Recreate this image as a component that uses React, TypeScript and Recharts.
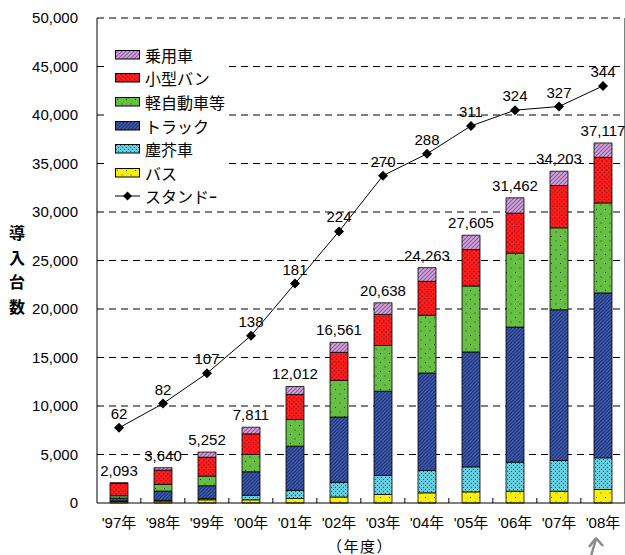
import React from "react"
import { ComposedChart, Bar, Line, XAxis, YAxis, CartesianGrid, LabelList } from "recharts"

// values (units: vehicles)
const years = ["'97年", "'98年", "'99年", "'00年", "'01年", "'02年", "'03年", "'04年", "'05年", "'06年", "'07年", "'08年"]
const bus = [150, 200, 330, 330, 475, 620, 875, 1050, 1150, 1220, 1220, 1390]
const garbage = [50, 70, 120, 470, 825, 1510, 1960, 2300, 2580, 2990, 3160, 3270]
const truck = [300, 960, 1330, 2421, 4557, 6731, 8693, 10053, 11845, 13922, 15538, 16997]
const kei = [250, 690, 990, 1780, 2750, 3780, 4710, 5950, 6800, 7630, 8450, 9280]
const van = [1270, 1470, 1950, 2130, 2580, 2890, 3200, 3500, 3750, 4120, 4360, 4700]
const car = [73, 250, 532, 680, 825, 1030, 1200, 1410, 1480, 1580, 1475, 1480]
const totals = [2093, 3640, 5252, 7811, 12012, 16561, 20638, 24263, 27605, 31462, 34203, 37117]
const stands = [62, 82, 107, 138, 181, 224, 270, 288, 311, 324, 327, 344]
const leftTicks = [0, 5000, 10000, 15000, 20000, 25000, 30000, 35000, 40000, 45000, 50000]
const rightTicks = [0, 100, 200, 300, 400]

const data = years.map((year, i) => ({
  year,
  bus: bus[i],
  garbage: garbage[i],
  truck: truck[i],
  kei: kei[i],
  van: van[i],
  car: car[i],
  total: totals[i],
  stand: stands[i],
}))

// stacked from bottom to top
const series = [
  { key: "bus", name: "バス", fill: "url(#pYellow)" },
  { key: "garbage", name: "塵芥車", fill: "url(#pCyan)" },
  { key: "truck", name: "トラック", fill: "url(#pBlue)" },
  { key: "kei", name: "軽自動車等", fill: "url(#pGreen)" },
  { key: "van", name: "小型バン", fill: "url(#pRed)" },
  { key: "car", name: "乗用車", fill: "url(#pPurple)" },
]

const W = 625
const H = 555
const LEFT_W = 97
const RIGHT_W = 4
const BAND = (W - LEFT_W - RIGHT_W) / years.length
const FONT = "'Liberation Sans', 'Noto Sans CJK JP', sans-serif"

function Patterns() {
  return (
    <svg width={0} height={0} style={{ position: "absolute" }}>
      <defs>
        <pattern id="pPurple" width={4} height={4} patternUnits="userSpaceOnUse">
          <rect width={4} height={4} fill="#d4a8dc" />
          <path d="M-1,1 l2,-2 M0,4 l4,-4 M3,5 l2,-2" stroke="#8a5598" strokeWidth={1.1} />
        </pattern>
        <pattern id="pBlue" width={3.5} height={3.5} patternUnits="userSpaceOnUse">
          <rect width={3.5} height={3.5} fill="#4566bd" />
          <path d="M-1,1 l2,-2 M0,3.5 l3.5,-3.5 M2.5,4.5 l2,-2" stroke="#1c2a66" strokeWidth={1.1} />
        </pattern>
        <pattern id="pRed" width={4.5} height={4.5} patternUnits="userSpaceOnUse">
          <rect width={4.5} height={4.5} fill="#ff1e1e" />
          <rect x={1} y={1} width={1} height={1} fill="#4a0000" />
          <rect x={3.2} y={3.2} width={1} height={1} fill="#4a0000" />
        </pattern>
        <pattern id="pGreen" width={9} height={9} patternUnits="userSpaceOnUse">
          <rect width={9} height={9} fill="#66bf44" />
          <rect x={2} y={2} width={1} height={1} fill="#1a3a10" />
          <rect x={6.5} y={6.5} width={1} height={1} fill="#1a3a10" />
        </pattern>
        <pattern id="pCyan" width={4} height={4} patternUnits="userSpaceOnUse">
          <rect width={4} height={4} fill="#64cfe0" />
          <rect x={1} y={1} width={1} height={1} fill="#1d5160" />
          <rect x={3} y={3} width={1} height={1} fill="#1d5160" />
        </pattern>
        <pattern id="pYellow" width={9} height={9} patternUnits="userSpaceOnUse">
          <rect width={9} height={9} fill="#f8ee10" />
          <rect x={2} y={2} width={1} height={1} fill="#555000" />
          <rect x={6.5} y={6.5} width={1} height={1} fill="#555000" />
        </pattern>
      </defs>
    </svg>
  )
}

function Diamond(props: any) {
  const { cx, cy } = props
  if (cx == null || cy == null) return null
  return <path d={`M${cx},${cy - 5} L${cx + 5},${cy} L${cx},${cy + 5} L${cx - 5},${cy} Z`} fill="#000" />
}

function XTick(props: any) {
  const { x, y, payload, index } = props
  return (
    <g>
      <text x={x} y={y + 25} textAnchor="middle" fontSize={15} fill="#000">
        {payload.value}
      </text>
      {index < years.length - 1 && (
        <line x1={x + BAND / 2} x2={x + BAND / 2} y1={y} y2={y - 5} stroke="#000" />
      )}
    </g>
  )
}

function LegendBox() {
  const rows = [...series].reverse()
  return (
    <div
      style={{
        position: "absolute",
        left: 108,
        top: 40,
        background: "#fff",
        width: 120,
        height: 164,
        padding: "3px 0 0 7px",
        boxSizing: "border-box",
        fontFamily: FONT,
        fontSize: 16,
        color: "#000",
      }}
    >
      {rows.map((s) => (
        <div key={s.key} style={{ height: 23.6, display: "flex", alignItems: "center" }}>
          <svg width={26} height={10} style={{ marginRight: 4 }}>
            <rect x={0.5} y={0.5} width={24} height={8.5} fill={s.fill} stroke="#000" strokeWidth={1} />
          </svg>
          <span>{s.name}</span>
        </div>
      ))}
      <div style={{ height: 23.6, display: "flex", alignItems: "center" }}>
        <svg width={26} height={12} style={{ marginRight: 4 }}>
          <line x1={0} x2={25} y1={6} y2={6} stroke="#000" />
          <path d="M12.5,1.5 L17,6 L12.5,10.5 L8,6 Z" fill="#000" />
        </svg>
        <span>スタンドｰ</span>
      </div>
    </div>
  )
}

export default function App() {
  return (
    <div style={{ position: "absolute", left: 0, top: 0, width: W, height: H, background: "#fff" }}>
      <Patterns />
      <ComposedChart
        width={W}
        height={H}
        data={data}
        margin={{ top: 18, right: 0, bottom: 0, left: 0 }}
        barSize={18}
        style={{ fontFamily: FONT }}
      >
        <CartesianGrid yAxisId="left" vertical={false} stroke="#000" strokeDasharray="7 5" horizontalValues={leftTicks.slice(1)} />
        <XAxis
          dataKey="year"
          height={52}
          interval={0}
          tickSize={0}
          tickMargin={0}
          tick={<XTick />}
          axisLine={{ stroke: "#000" }}
          tickLine={false}
        />
        <YAxis
          yAxisId="left"
          width={LEFT_W}
          domain={[0, 50000]}
          ticks={leftTicks}
          tickFormatter={(v: number) => v.toLocaleString("en-US")}
          tick={{ fill: "#000", fontSize: 15 }}
          tickLine={false}
          tickSize={0}
          tickMargin={19}
          axisLine={{ stroke: "#000" }}
        />
        <YAxis
          yAxisId="right"
          orientation="right"
          width={RIGHT_W}
          domain={[0, 400]}
          ticks={rightTicks}
          tick={false}
          mirror
          tickSize={4}
          tickLine={{ stroke: "#000" }}
          axisLine={{ stroke: "#000" }}
        />
        {series.map((s, i) => (
          <Bar
            key={s.key}
            yAxisId="left"
            dataKey={s.key}
            name={s.name}
            stackId="a"
            fill={s.fill}
            stroke="#000"
            strokeWidth={0.8}
            isAnimationActive={false}
          >
            {i === series.length - 1 && (
              <LabelList
                dataKey="total"
                position="top"
                offset={7}
                fontSize={15}
                fill="#000"
                formatter={(v: any) => Number(v).toLocaleString("en-US")}
              />
            )}
          </Bar>
        ))}
        <Line
          yAxisId="right"
          dataKey="stand"
          name="スタンドｰ"
          stroke="#000"
          strokeWidth={1}
          dot={<Diamond />}
          activeDot={false}
          isAnimationActive={false}
        >
          <LabelList dataKey="stand" position="top" offset={9} fontSize={15} fill="#000" />
        </Line>
      </ComposedChart>
      <LegendBox />
      <div
        style={{
          position: "absolute",
          left: 8,
          top: 220,
          width: 18,
          fontFamily: "'Noto Sans CJK JP', sans-serif",
          fontWeight: 700,
          fontSize: 16,
          lineHeight: "24.5px",
          color: "#000",
          textAlign: "center",
        }}
      >
        <div>導</div>
        <div>入</div>
        <div>台</div>
        <div>数</div>
      </div>
      <div
        style={{
          position: "absolute",
          left: 300,
          top: 535,
          width: 120,
          textAlign: "center",
          fontFamily: "'Noto Sans CJK JP', sans-serif",
          fontSize: 15,
          letterSpacing: 1.5,
          color: "#000",
        }}
      >
        （年度）
      </div>
      <svg width={24} height={20} style={{ position: "absolute", left: 584, top: 536 }}>
        <path d="M7,20 L12,3" stroke="#8a8a8a" strokeWidth={2.5} />
        <path d="M12,2 L5,11 M12,2 L19,10" stroke="#8a8a8a" strokeWidth={2.5} fill="none" />
      </svg>
    </div>
  )
}
